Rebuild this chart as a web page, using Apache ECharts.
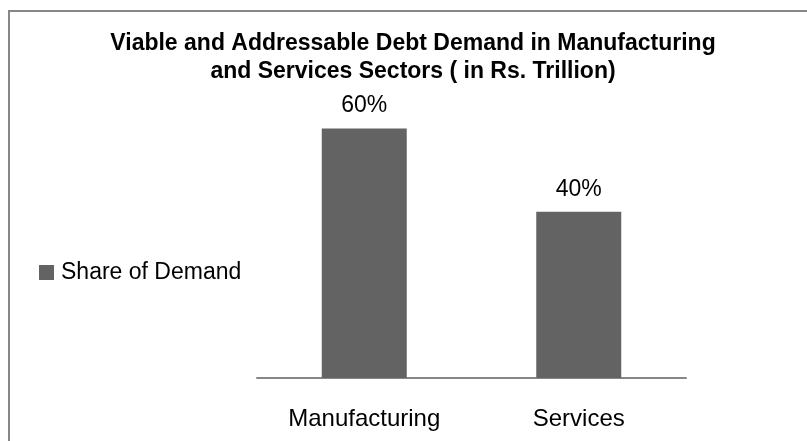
<!DOCTYPE html>
<html>
<head>
<meta charset="utf-8">
<title>Viable and Addressable Debt Demand</title>
<script src="https://cdn.jsdelivr.net/npm/echarts@6/dist/echarts.min.js"></script>
<style>
  html, body { margin: 0; padding: 0; background: #fff; }
  #chart { width: 807px; height: 441px; }
</style>
</head>
<body>
<div id="chart"></div>
<script>
// Sector categories and their share of viable, addressable debt demand (%)
const categories = ['Manufacturing', 'Services'];
const shareOfDemand = [60, 40];
const seriesName = 'Share of Demand';
const titleLines = [
  'Viable and Addressable Debt Demand in Manufacturing',
  'and Services Sectors ( in Rs. Trillion)'
];

const FONT = '"Liberation Sans", Arial, sans-serif';

const chart = echarts.init(document.getElementById('chart'), null, { renderer: 'canvas' });

chart.setOption({
  backgroundColor: '#ffffff',
  animation: false,
  title: {
    text: titleLines.join('\n'),
    left: 413,
    top: 30,
    padding: 0,
    textAlign: 'center',
    textStyle: {
      fontFamily: FONT,
      fontSize: 23,
      fontWeight: 'bold',
      color: '#000000',
      lineHeight: 28
    }
  },
  legend: {
    data: [seriesName],
    orient: 'vertical',
    left: 39,
    top: 261,
    padding: 0,
    itemWidth: 15,
    itemHeight: 15,
    icon: 'rect',
    textStyle: {
      fontFamily: FONT,
      fontSize: 23,
      color: '#000000',
      padding: [0, 0, 0, 2]
    }
  },
  grid: {
    left: 257,
    right: 121,
    top: 87,
    bottom: 63,
    containLabel: false
  },
  xAxis: {
    type: 'category',
    data: categories,
    axisLine: { show: true, lineStyle: { color: '#878787', width: 2 } },
    axisTick: { show: false },
    axisLabel: {
      fontFamily: FONT,
      fontSize: 24,
      color: '#000000',
      margin: 29
    }
  },
  yAxis: {
    type: 'value',
    min: 0,
    max: 70,
    show: false,
    splitLine: { show: false }
  },
  series: [{
    name: seriesName,
    type: 'bar',
    data: shareOfDemand,
    barWidth: 85,
    itemStyle: { color: '#636363' },
    label: {
      show: true,
      position: 'top',
      distance: 11,
      formatter: '{c}%',
      fontFamily: FONT,
      fontSize: 23,
      color: '#000000'
    }
  }],
  graphic: [{
    // chart frame: only its top and left edges fall inside the canvas
    type: 'rect',
    silent: true,
    shape: { x: 9, y: 11, width: 1200, height: 1000 },
    style: { fill: 'none', stroke: '#878787', lineWidth: 2 }
  }]
});
</script>
</body>
</html>
